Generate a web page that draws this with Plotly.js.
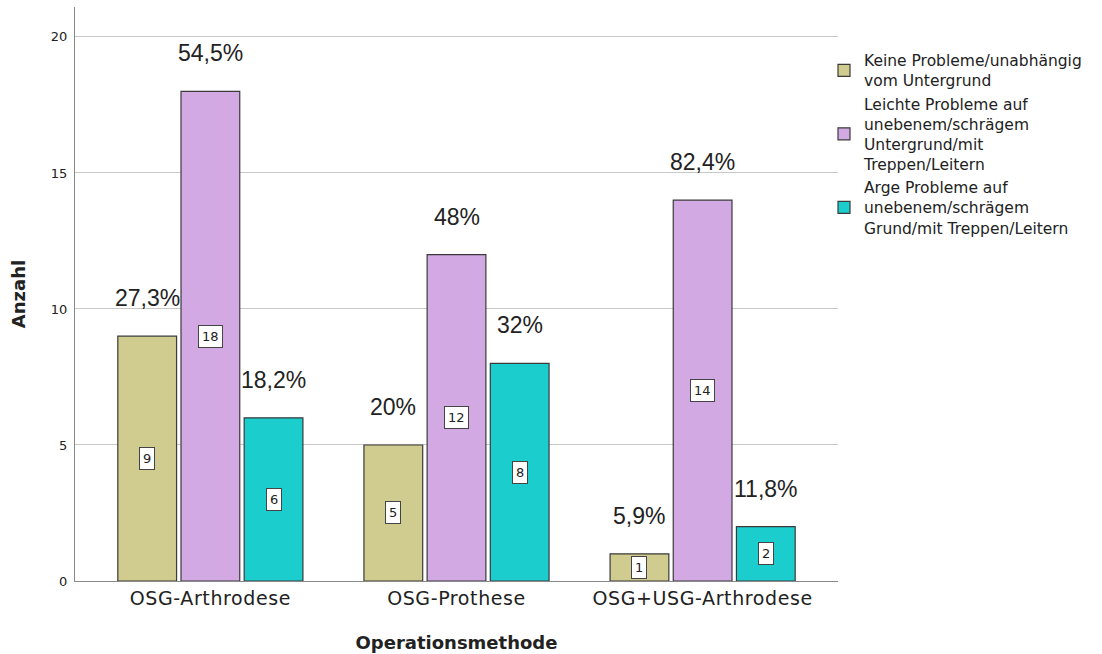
<!DOCTYPE html>
<html><head><meta charset="utf-8">
<script src="https://cdn.plot.ly/plotly-3.0.1.min.js"></script>
<style>
html,body{margin:0;padding:0;background:#fff}
#chart{width:1102px;height:654px}
#chart .xtick text{letter-spacing:0.6px}
</style>
</head><body><div id="chart"></div>
<script>
const categories = ["OSG-Arthrodese", "OSG-Prothese", "OSG+USG-Arthrodese"];
const seriesNames = [
  "Keine Probleme/unabhängig<br>vom Untergrund",
  "Leichte Probleme auf<br>unebenem/schrägem<br>Untergrund/mit<br>Treppen/Leitern",
  "Arge Probleme auf<br>unebenem/schrägem<br>Grund/mit Treppen/Leitern"
];
const keine = [9, 5, 1];
const leichte = [18, 12, 14];
const arge = [6, 8, 2];
const keinePct = ["27,3%", "20%", "5,9%"];
const leichtePct = ["54,5%", "48%", "82,4%"];
const argePct = ["18,2%", "32%", "11,8%"];
const colors = ["#D0CB8E", "#D2A9E3", "#1BCDCD"];

const series = [keine, leichte, arge];
const pcts = [keinePct, leichtePct, argePct];

const traces = series.map((vals, i) => ({
  type: "bar",
  name: seriesNames[i],
  x: categories,
  y: vals,
  marker: {color: colors[i], line: {color: "#3a3a3a", width: 1.2}},
  hoverinfo: "none"
}));

const bargap = 0.23, bargroupgap = 0.07;
const groupW = 1 - bargap;
const slot = groupW / 3;
const annotations = [];
series.forEach((vals, i) => {
  vals.forEach((v, j) => {
    const xpos = j - groupW / 2 + slot * (i + 0.5);
    annotations.push({
      x: xpos, y: v, xref: "x", yref: "y", text: pcts[i][j],
      showarrow: false, yanchor: "bottom", yshift: 23,
      font: {family: "Liberation Sans, Arial, sans-serif", size: 23, color: "#222"}
    });
    annotations.push({
      x: xpos, y: v / 2, xref: "x", yref: "y", text: String(v),
      showarrow: false, bgcolor: "#ffffff", bordercolor: "#444", borderwidth: 1,
      borderpad: 3,
      font: {family: "DejaVu Sans, sans-serif", size: 13, color: "#222"}
    });
  });
});

const layout = {
  width: 1102, height: 654,
  margin: {l: 75, r: 264, t: 7, b: 73},
  paper_bgcolor: "#fff", plot_bgcolor: "#fff",
  barmode: "group", bargap: bargap, bargroupgap: bargroupgap,
  showlegend: true,
  legend: {
    x: 1 - 14 / 763, xanchor: "left", y: 0.936, yanchor: "top",
    font: {family: "DejaVu Sans, sans-serif", size: 15.5, color: "#222"},
    tracegroupgap: 2, itemwidth: 30, traceorder: "normal",
    bgcolor: "rgba(0,0,0,0)"
  },
  xaxis: {
    type: "category", range: [-0.55, 2.55],
    showline: true, linecolor: "#888", linewidth: 1,
    ticks: "", showgrid: false,
    tickfont: {family: "DejaVu Sans, sans-serif", size: 19, color: "#222"},
    title: {text: "<b>Operationsmethode</b>", standoff: 28,
      font: {family: "DejaVu Sans, sans-serif", size: 18, color: "#222"}}
  },
  yaxis: {
    range: [0, 21.1], tickvals: [0, 5, 10, 15, 20],
    showline: true, linecolor: "#888", linewidth: 1,
    ticks: "outside", ticklen: 4, tickcolor: "rgba(0,0,0,0)",
    showgrid: true, gridcolor: "#c8c8c8", gridwidth: 1, zeroline: false,
    tickfont: {family: "DejaVu Sans, sans-serif", size: 13, color: "#222"},
    title: {text: "<b>Anzahl</b>", standoff: 20,
      font: {family: "DejaVu Sans, sans-serif", size: 18, color: "#222"}}
  },
  annotations: annotations
};

Plotly.newPlot("chart", traces, layout, {displayModeBar: false, staticPlot: true});
</script></body></html>
